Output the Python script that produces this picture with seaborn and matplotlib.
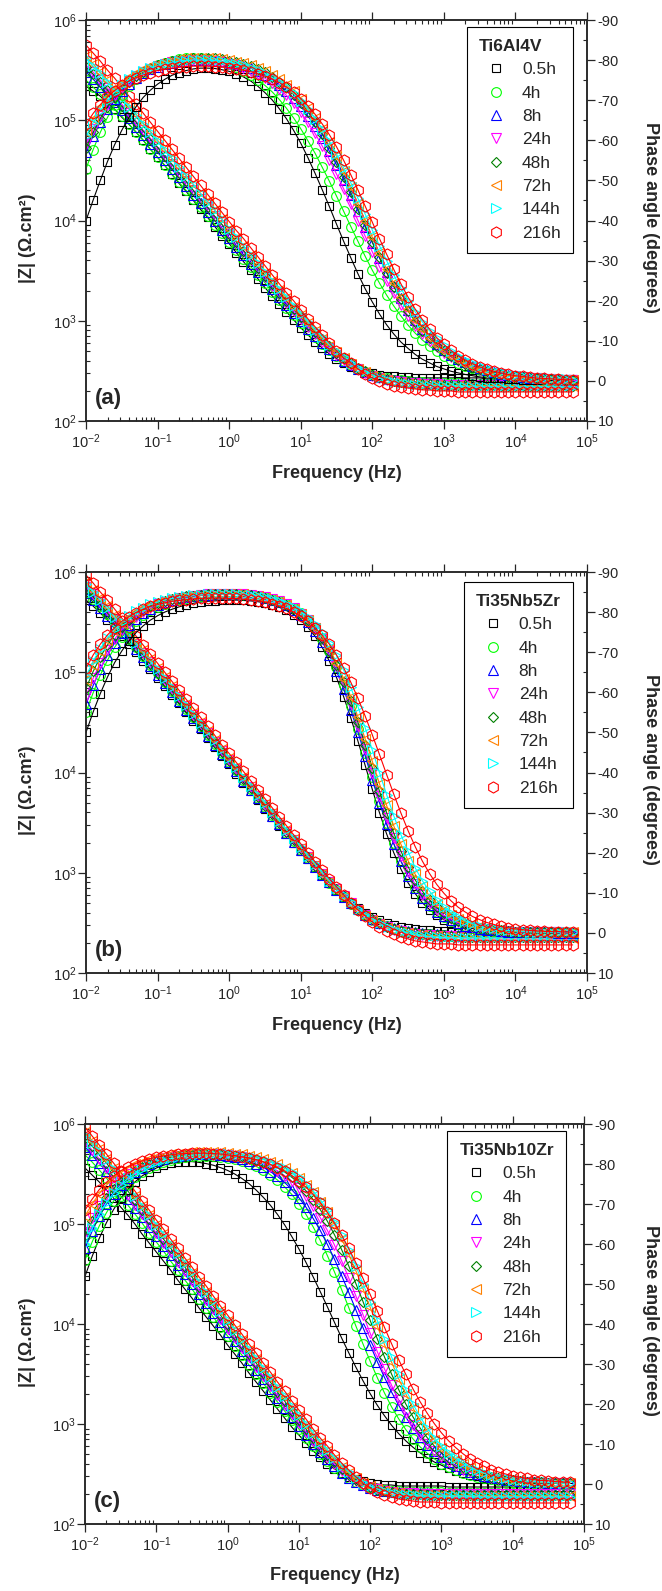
import numpy as np
import matplotlib
matplotlib.use('Agg')
import matplotlib.pyplot as plt
import seaborn as sns
from matplotlib.lines import Line2D
from matplotlib.ticker import LogLocator, FixedLocator, MultipleLocator, NullFormatter

sns.set_style('ticks')
plt.rcParams.update({
    'font.family': ['Liberation Sans', 'DejaVu Sans'],
    'mathtext.fontset': 'custom', 'mathtext.rm': 'Liberation Sans',
    'mathtext.it': 'Liberation Sans:italic', 'mathtext.bf': 'Liberation Sans:bold',
    'axes.unicode_minus': False, 'axes.linewidth': 1.1,
})

# ---------------- data ----------------
freq = [0.01, 0.01259, 0.01585, 0.01995, 0.02512, 0.03162, 0.03981, 0.05012, 0.0631, 0.07943,
        0.1, 0.1259, 0.1585, 0.1995, 0.2512, 0.3162, 0.3981, 0.5012, 0.631, 0.7943,
        1, 1.259, 1.585, 1.995, 2.512, 3.162, 3.981, 5.012, 6.31, 7.943,
        10, 12.59, 15.85, 19.95, 25.12, 31.62, 39.81, 50.12, 63.1, 79.43,
        100, 125.9, 158.5, 199.5, 251.2, 316.2, 398.1, 501.2, 631, 794.3,
        1000, 1259, 1585, 1995, 2512, 3162, 3981, 5012, 6310, 7943,
        10000, 12589, 15849, 19953, 25119, 31623, 39811, 50119, 63096]
labels = ['0.5h', '4h', '8h', '24h', '48h', '72h', '144h', '216h']
titles = ['Ti6Al4V', 'Ti35Nb5Zr', 'Ti35Nb10Zr']

# log10(|Z| / ohm.cm2) x 100, one list per immersion time
logZ_a = [
 [534,529,524,517,511,503,496,488,480,471,463,455,446,437,429,420,411,403,394,385,377,368,359,
  351,342,333,325,317,309,301,293,286,279,273,267,262,258,254,252,249,248,246,245,245,244,244,
  243,243,243,243,243,243,243,243,243,243,242,242,242,242,242,242,242,242,242,242,242,242,242],
 [540,533,526,519,511,504,496,488,480,471,463,455,446,438,430,421,413,404,396,388,379,371,362,
  354,346,338,329,321,313,306,298,291,284,277,271,265,260,256,252,249,246,244,243,241,241,240,
  239,239,238,238,238,238,238,238,237,237,237,237,237,237,237,237,237,237,237,237,237,237,237],
 [548,541,533,526,518,510,502,493,485,476,468,460,451,443,434,425,417,408,400,391,383,374,366,
  357,349,341,332,324,316,308,300,292,285,278,272,266,260,256,252,249,246,244,242,241,240,239,
  239,238,238,238,237,237,237,237,237,237,237,237,237,237,237,237,237,237,237,237,237,237,237],
 [555,548,540,532,524,516,507,499,490,482,473,464,456,447,439,430,421,413,404,396,387,378,369,
  361,352,344,335,327,318,310,302,294,287,279,273,266,261,256,252,248,245,243,241,240,239,238,
  238,237,237,237,236,236,236,236,236,236,236,236,236,236,236,236,236,236,236,236,236,236,236],
 [553,546,538,530,522,514,506,498,489,481,473,464,456,447,439,430,421,413,404,396,387,379,370,
  362,353,345,337,328,320,312,304,296,289,282,275,268,263,258,253,250,246,244,242,240,239,239,
  238,237,237,236,236,236,236,236,236,236,236,236,235,235,235,235,235,235,235,235,235,235,235],
 [564,556,548,540,532,523,515,506,497,489,480,471,462,454,445,436,427,419,410,401,392,383,375,
  366,357,348,340,331,323,314,306,298,290,282,275,269,263,257,252,249,245,243,241,239,238,237,
  237,236,236,236,235,235,235,235,235,235,235,235,235,235,235,235,235,235,235,235,235,235,235],
 [562,554,547,538,530,522,513,505,496,488,479,470,462,453,444,436,427,418,410,401,392,384,375,
  366,358,349,340,332,324,315,307,299,291,284,276,270,264,258,253,250,246,243,241,239,238,237,
  236,236,235,235,235,235,235,234,234,234,234,234,234,234,234,234,234,234,234,234,234,234,234],
 [575,567,559,550,542,533,524,516,507,498,489,480,471,462,453,444,435,426,417,408,399,390,382,
  373,364,355,346,337,328,320,311,302,294,286,278,270,263,258,252,247,243,240,237,235,234,233,
  232,231,231,230,230,230,229,229,229,229,229,229,229,229,229,229,229,229,229,229,229,229,229],
]
# -(phase angle) x 10, degrees
phase_a = [
 [400,451,500,547,589,625,657,684,707,725,740,752,762,769,774,778,780,780,779,776,772,766,758,
  748,735,719,701,679,654,625,593,557,518,477,435,391,348,307,267,230,197,167,140,117,97,81,
  66,54,45,36,30,24,20,16,13,10,8,7,6,4,4,3,2,2,2,1,1,1,1],
 [529,577,620,657,688,714,736,754,768,779,788,794,799,803,804,805,804,803,799,795,790,783,774,
  764,751,737,721,702,680,656,629,599,568,533,498,461,423,385,348,311,276,244,214,187,162,139,
  119,102,87,74,62,53,44,37,31,26,22,19,16,13,11,9,8,6,5,4,4,3,3],
 [570,611,646,677,703,724,741,756,767,777,784,790,794,797,799,800,800,800,799,797,794,791,786,
  780,772,763,752,738,724,705,685,661,635,605,573,539,502,463,424,384,345,307,271,237,206,178,
  152,130,110,93,78,65,55,46,38,32,26,22,18,15,12,10,8,7,6,5,4,3,2],
 [590,628,661,689,712,731,747,760,771,779,786,791,795,797,799,800,800,799,797,795,791,787,781,
  774,765,755,743,729,712,692,670,645,617,586,552,516,479,440,400,361,322,285,250,218,189,162,
  138,117,99,84,70,59,49,41,34,28,23,19,16,13,11,9,7,6,5,4,3,3,2],
 [580,620,654,684,709,729,746,760,771,780,788,793,798,801,803,804,805,805,804,802,799,796,791,
  785,778,770,759,746,732,714,694,671,645,615,582,547,509,470,429,388,347,308,270,235,203,174,
  148,125,106,88,74,61,51,42,35,29,24,20,16,13,11,9,7,6,5,4,3,3,2],
 [620,654,683,707,728,744,758,769,778,786,791,796,799,802,804,805,805,805,804,802,800,796,792,
  787,781,773,763,752,738,722,703,680,655,627,595,560,523,483,442,400,358,318,279,243,209,179,
  152,129,108,90,75,62,51,42,35,29,24,19,16,13,11,9,7,6,5,4,3,3,2],
 [610,644,674,699,720,738,752,763,773,780,786,791,794,797,799,800,800,800,799,797,794,791,787,
  781,775,767,757,746,733,717,699,678,654,628,598,566,531,494,455,416,376,337,300,264,231,200,
  172,147,125,106,90,75,63,53,44,36,30,25,21,17,14,12,10,8,7,5,5,4,3],
 [640,667,689,708,724,737,748,756,763,769,774,777,780,782,784,785,785,785,784,783,781,779,775,
  771,766,760,753,744,733,720,704,686,665,641,614,584,550,514,476,436,396,355,316,278,242,209,
  179,153,129,108,91,76,63,52,43,35,29,24,20,16,13,11,9,7,6,5,4,3,3],
]

logZ_b = [
 [572,566,559,552,544,536,528,520,511,503,494,486,477,469,460,451,443,434,425,416,408,399,390,
  382,373,364,356,347,339,330,322,314,306,298,290,283,276,270,265,260,256,253,250,248,246,245,
  244,243,243,242,242,241,241,241,241,241,241,241,241,241,241,241,241,241,241,241,241,241,241],
 [580,573,566,558,550,542,533,525,516,507,499,490,481,472,463,455,446,437,428,419,410,402,393,
  384,375,366,358,349,340,332,323,315,306,298,290,283,276,269,263,258,253,250,247,244,242,241,
  240,239,239,238,238,237,237,237,237,237,237,237,237,237,237,237,237,237,237,237,237,237,237],
 [579,572,564,556,548,540,532,523,515,506,497,489,480,471,462,454,445,436,427,418,410,401,392,
  383,375,366,357,349,340,331,323,315,306,298,291,283,276,270,264,258,254,250,247,245,243,242,
  241,240,239,239,238,238,238,237,237,237,237,237,237,237,237,237,237,237,237,237,237,237,237],
 [585,578,570,562,553,545,536,528,519,510,501,492,483,475,466,457,448,439,430,421,412,403,394,
  386,377,368,359,350,341,333,324,316,307,299,291,284,277,270,263,258,253,249,246,243,242,240,
  239,238,238,237,237,237,236,236,236,236,236,236,236,236,236,236,236,236,236,236,236,236,236],
 [583,575,567,559,551,542,534,525,517,508,499,490,482,473,464,455,446,438,429,420,411,402,394,
  385,376,367,359,350,341,333,324,316,307,299,291,284,277,270,264,258,254,250,246,244,242,241,
  240,239,238,238,237,237,237,236,236,236,236,236,236,236,236,236,236,236,236,236,236,236,236],
 [590,582,574,566,557,548,539,531,522,513,504,495,486,477,468,459,450,441,432,423,414,405,396,
  387,378,369,360,351,343,334,325,316,308,299,291,283,276,269,263,257,253,249,245,243,241,240,
  238,238,237,237,236,236,236,235,235,235,235,235,235,235,235,235,235,235,235,235,235,235,235],
 [588,580,572,564,555,546,538,529,520,511,503,494,485,476,467,458,449,441,432,423,414,405,396,
  387,378,370,361,352,343,335,326,317,309,300,292,285,278,271,264,259,254,250,246,243,241,240,
  238,237,236,236,235,235,235,235,235,235,235,235,235,235,235,235,235,235,235,235,235,235,235],
 [597,589,580,572,563,554,545,536,527,518,509,500,491,482,473,464,455,446,437,427,419,410,401,
  392,383,374,365,356,347,338,329,320,311,303,294,286,278,270,263,257,251,246,242,239,236,234,
  232,231,230,229,229,229,228,228,228,228,228,228,228,228,228,228,228,228,228,228,228,228,228],
]
phase_b = [
 [500,551,597,638,674,703,728,749,766,780,791,800,807,813,818,822,825,827,828,829,830,830,829,
  828,826,823,818,812,804,794,780,762,740,712,678,637,589,536,478,418,358,300,247,200,159,125,
  98,75,58,44,33,25,19,14,11,8,6,5,3,3,2,1,1,1,1,0,0,0,0],
 [550,599,643,680,712,738,760,778,792,804,813,821,827,832,836,839,841,843,844,845,845,845,844,
  843,841,838,833,828,820,810,798,781,760,734,702,663,617,566,509,449,388,329,273,223,179,142,
  111,86,66,51,39,29,22,17,13,10,7,5,4,3,2,2,1,1,1,1,0,0,0],
 [570,617,658,693,723,747,768,784,797,808,817,824,829,834,837,840,842,843,844,845,845,845,844,
  842,839,836,831,825,817,806,792,775,753,726,693,653,608,556,500,442,382,325,271,222,179,143,
  113,88,69,53,41,31,24,18,14,10,8,6,5,3,3,2,2,1,1,1,0,0,0],
 [590,635,673,706,733,756,774,789,801,811,819,825,831,835,838,840,842,844,844,845,845,845,844,
  842,840,837,832,827,819,809,796,780,760,734,703,665,622,572,517,459,400,342,287,236,192,153,
  121,95,74,57,44,34,26,20,15,11,9,7,5,4,3,2,2,1,1,1,1,0,0],
 [610,652,688,718,743,764,781,795,806,815,822,828,832,836,839,841,843,844,845,845,845,844,843,
  842,839,836,831,826,818,808,796,780,759,735,704,668,626,578,525,469,412,354,300,249,204,165,
  132,104,82,64,50,38,30,23,17,13,10,8,6,5,3,3,2,2,1,1,1,1,0],
 [630,669,702,730,753,772,787,800,810,818,825,830,834,837,840,842,843,844,845,845,845,845,844,
  841,839,835,831,825,818,808,796,781,761,738,709,674,634,589,538,484,428,372,318,267,221,180,
  146,116,92,73,57,44,34,27,21,16,12,9,7,6,4,3,3,2,2,1,1,1,1],
 [640,678,709,736,758,776,790,802,811,819,825,830,834,837,840,842,843,844,845,845,845,844,843,
  842,840,837,833,828,821,813,802,788,771,750,724,692,655,612,564,512,456,400,345,292,245,203,
  162,130,104,82,64,50,39,30,23,18,14,11,8,6,5,4,3,2,2,1,1,1,1],
 [660,693,720,743,761,777,789,799,807,814,819,823,827,829,831,833,834,835,835,835,834,834,832,
  830,828,825,821,815,809,800,790,777,761,742,720,693,661,625,585,541,494,445,395,346,299,255,
  215,179,148,121,99,80,64,52,41,33,26,21,16,13,10,8,6,5,4,3,3,2,2],
]

logZ_c = [
 [556,549,542,534,526,517,509,500,490,481,472,463,454,444,435,426,416,407,
  398,389,379,370,361,351,342,333,324,315,306,297,289,281,273,267,260,255,
  251,247,245,243,241,240,239,239,238,238,238,238,238,238,238,237,237,237,
  237,237,237,237,237,237,237,237,237,237,237,237,237,237,237],
 [569,562,554,546,537,528,519,510,501,491,482,473,463,454,444,435,425,416,
  407,397,388,378,369,359,350,341,331,322,313,304,295,286,278,270,263,256,
  251,246,242,239,237,235,234,233,233,232,232,232,232,232,232,231,231,231,
  231,231,231,231,231,231,231,231,231,231,231,231,231,231,231],
 [577,569,561,553,544,535,525,516,507,497,488,478,469,459,450,440,430,421,
  411,402,392,383,373,364,354,345,335,326,316,307,298,289,280,272,265,258,
  251,246,242,239,236,234,233,232,232,231,231,231,231,230,230,230,230,230,
  230,230,230,230,230,230,230,230,230,230,230,230,230,230,230],
 [582,574,565,556,547,538,529,519,510,500,491,481,472,462,453,443,434,424,
  415,405,395,386,376,367,357,348,338,329,319,310,301,292,283,275,267,260,
  253,248,243,239,237,235,233,232,231,231,231,230,230,230,230,230,230,230,
  230,230,230,230,230,230,230,230,230,230,230,230,230,230,230],
 [586,578,569,561,552,542,533,524,514,505,495,485,476,466,457,447,437,428,
  418,409,399,389,380,370,361,351,342,332,323,313,304,295,286,277,269,262,
  255,249,244,240,237,234,233,232,231,230,230,230,229,229,229,229,229,229,
  229,229,229,229,229,229,229,229,229,229,229,229,229,229,229],
 [592,583,575,565,556,547,537,528,518,509,499,490,480,470,461,451,442,432,
  422,413,403,394,384,374,365,355,346,336,327,317,308,299,290,281,273,265,
  257,251,246,241,238,235,233,232,231,230,229,229,229,229,229,229,228,228,
  228,228,228,228,228,228,228,228,228,228,228,228,228,228,228],
 [589,581,573,564,555,546,537,528,518,509,499,490,480,471,461,452,442,432,
  423,413,404,394,385,375,366,356,347,337,328,318,309,300,291,282,274,266,
  258,252,246,241,238,235,233,231,230,229,229,228,228,228,228,228,228,228,
  228,227,227,227,227,227,227,227,227,227,227,227,227,227,227],
 [597,588,579,570,561,552,542,533,523,514,504,495,485,476,466,457,447,438,
  428,418,409,399,390,380,371,361,352,342,333,323,314,305,295,286,278,269,
  261,254,247,241,236,232,229,227,225,224,223,222,222,222,221,221,221,221,
  221,221,221,221,221,221,221,221,221,221,221,221,221,221,221],
]
phase_c = [
 [519,569,614,653,686,714,736,755,770,781,790,797,802,804,806,806,804,801,
  797,791,784,775,764,751,735,717,697,674,648,619,588,554,518,481,443,404,
  365,328,292,258,226,197,171,147,126,108,92,78,66,55,47,39,33,27,
  23,19,16,13,11,9,8,6,5,4,4,3,3,2,2],
 [560,605,645,678,707,731,751,767,780,790,798,805,810,814,817,819,820,820,
  819,818,815,812,807,801,794,785,773,760,743,724,701,674,643,609,571,530,
  486,441,395,350,307,266,228,193,163,136,113,93,77,63,51,42,34,27,
  22,18,14,12,9,8,6,5,4,3,3,2,2,1,1],
 [590,632,669,700,726,747,765,779,790,800,807,813,817,820,823,824,825,825,
  824,823,820,817,812,807,800,792,781,769,754,736,716,692,664,634,599,562,
  521,479,435,391,348,306,267,230,197,167,141,118,98,82,67,55,46,37,
  31,25,20,17,14,11,9,7,6,5,4,3,3,2,2],
 [630,666,696,722,743,761,775,786,796,803,809,814,818,821,823,824,825,825,
  825,824,822,820,817,813,808,801,793,783,771,757,739,719,694,666,634,597,
  558,515,470,423,377,331,288,247,210,177,148,123,101,83,68,55,45,36,
  29,24,19,15,12,10,8,6,5,4,3,3,2,2,1],
 [620,657,689,716,738,756,771,783,793,801,807,813,816,820,822,823,824,825,
  825,824,823,821,819,815,811,806,799,790,780,767,752,733,711,686,657,623,
  586,545,501,456,409,363,318,275,236,200,168,140,116,95,78,64,52,42,
  34,27,22,18,14,11,9,7,6,5,4,3,2,2,2],
 [670,700,726,747,764,778,790,799,806,812,817,821,824,826,828,829,830,830,
  830,829,828,826,824,821,817,812,806,799,790,778,765,748,729,706,679,648,
  613,574,533,488,442,395,349,305,263,225,190,159,133,110,90,74,60,49,
  39,32,26,21,17,13,11,9,7,6,4,4,3,2,2],
 [600,640,674,703,727,747,764,777,788,797,804,810,814,818,820,822,824,825,
  825,825,824,823,821,818,815,811,805,798,790,779,767,751,733,711,686,656,
  623,586,545,501,456,409,363,318,275,236,200,168,140,116,95,78,64,52,
  42,34,27,22,18,14,11,9,7,6,5,4,3,2,2],
 [685,712,736,754,770,783,793,801,808,813,817,820,823,825,826,827,827,827,
  826,825,823,821,818,815,811,805,799,791,782,771,757,742,724,703,679,652,
  622,589,553,514,474,433,392,351,311,274,238,206,177,151,128,108,91,76,
  63,53,44,36,30,25,20,17,14,11,9,8,6,5,4],
]

# ---------------- style ----------------
colors = ['#000000', '#00FF00', '#0000FF', '#FF00FF', '#008000', '#FF8000', '#00FFFF', '#FF0000']
markers = ['s', 'o', '^', 'v', 'D', '<', '>', 'h']
msizes = [6.2, 7, 7.5, 7.5, 5.6, 7.5, 7.5, 8]

fig = plt.figure(figsize=(6.62, 15.91), dpi=100)
H = 1591.0; W = 662.0
panels = [
  ('a', titles[0], logZ_a, phase_a, (86, 587, 20, 421), (0.972, 0.9825)),
  ('b', titles[1], logZ_b, phase_b, (86, 587, 572, 973), (0.972, 0.975)),
  ('c', titles[2], logZ_c, phase_c, (85, 584, 1124, 1524), (0.964, 0.9825)),
]
f = np.array(freq)
for key, title, LZ, PH, (x0, x1, y0, y1), lanchor in panels:
    ax = fig.add_axes([x0 / W, 1 - y1 / H, (x1 - x0) / W, (y1 - y0) / H])
    ax2 = ax.twinx()
    for i in range(8):
        zm = 10 ** (np.array(LZ[i]) / 100.0)
        sns.lineplot(x=f, y=zm, ax=ax, color=colors[i], marker=markers[i], markersize=msizes[i],
                     markerfacecolor='none', markeredgecolor=colors[i], markeredgewidth=0.8,
                     linewidth=0.8, legend=False, errorbar=None, sort=False)
    for i in range(8):
        ph = -np.array(PH[i]) / 10.0
        sns.lineplot(x=f, y=ph, ax=ax2, color=colors[i], marker=markers[i], markersize=msizes[i],
                     markerfacecolor='none', markeredgecolor=colors[i], markeredgewidth=0.8,
                     linewidth=0.8, legend=False, errorbar=None, sort=False)
    ax.set_xscale('log'); ax.set_yscale('log')
    ax.set_xlim(1e-2, 1e5); ax.set_ylim(1e2, 1e6)
    ax2.set_ylim(10, -90)
    ax.xaxis.set_major_locator(FixedLocator([1e-2, 1e-1, 1, 1e1, 1e2, 1e3, 1e4, 1e5]))
    ax.xaxis.set_minor_locator(LogLocator(base=10, subs=np.arange(2, 10), numticks=100))
    ax.xaxis.set_minor_formatter(NullFormatter())
    ax.yaxis.set_major_locator(FixedLocator([1e2, 1e3, 1e4, 1e5, 1e6]))
    ax.yaxis.set_minor_locator(LogLocator(base=10, subs=np.arange(2, 10), numticks=100))
    ax.yaxis.set_minor_formatter(NullFormatter())
    ax2.yaxis.set_major_locator(MultipleLocator(10))
    ax2.yaxis.set_minor_locator(MultipleLocator(5))
    ax.set_xlabel(''); ax.set_ylabel(''); ax2.set_ylabel('')
    ax.tick_params(axis='both', which='major', direction='out', length=5.5, width=0.9, labelsize=10.5, pad=1.5)
    ax.tick_params(axis='x', which='major', pad=3, top=True)
    ax.tick_params(axis='both', which='minor', direction='in', length=3, width=0.8)
    ax.tick_params(axis='x', which='minor', top=True)
    ax.tick_params(axis='y', which='both', right=False)
    ax2.tick_params(axis='y', which='major', direction='out', length=5.5, width=0.9, labelsize=10.5, pad=2)
    ax2.tick_params(axis='y', which='minor', direction='in', length=3, width=0.8)
    handles = [Line2D([], [], ls='none', marker=markers[i], ms=msizes[i], mfc='none', mec=colors[i], mew=0.8)
               for i in range(8)]
    leg = ax2.legend(handles, labels, title=title, loc='upper right', bbox_to_anchor=lanchor,
                     bbox_transform=ax.transAxes, frameon=True, fancybox=False, edgecolor='black',
                     framealpha=1, fontsize=12.5, title_fontproperties={'weight': 'bold', 'size': 12.5},
                     alignment='left', borderpad=0.7, labelspacing=0.47, handlelength=1.95,
                     handletextpad=0.52, borderaxespad=0)
    leg.get_frame().set_linewidth(0.8)
    ax.text(0.018, 0.055, '(%s)' % key, transform=ax.transAxes, fontsize=16, fontweight='bold',
            ha='left', va='center')
    yc = (y0 + y1) / 2
    fig.text(28 / W, 1 - (yc + 18) / H, '|Z| (Ω.cm²)', rotation=90, ha='center', va='center',
             fontsize=13, fontweight='bold')
    fig.text(650 / W, 1 - (yc - 3.5) / H, 'Phase angle (degrees)', rotation=270, ha='center', va='center',
             fontsize=13, fontweight='bold')
    fig.text((x0 + x1) / 2 / W, 1 - (y1 + 52) / H, 'Frequency (Hz)', ha='center', va='center',
             fontsize=13, fontweight='bold')

fig.savefig('out.png', dpi=100)
